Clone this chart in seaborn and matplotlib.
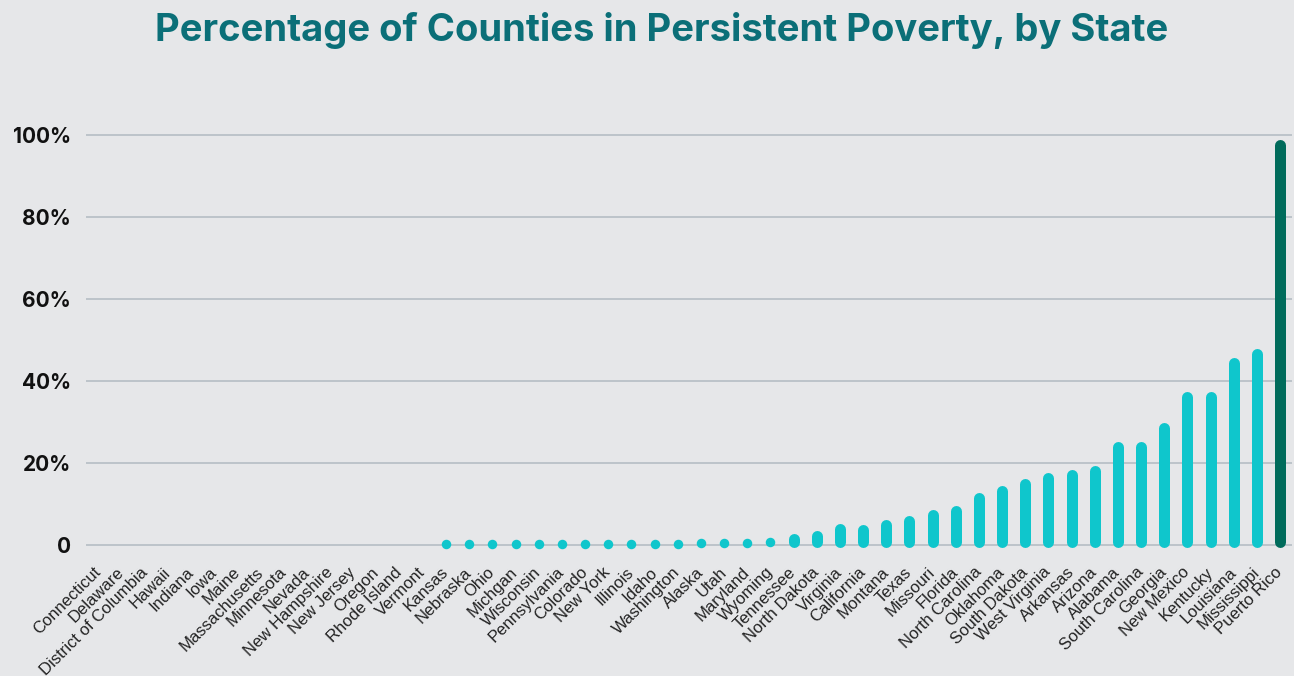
import matplotlib
matplotlib.use("Agg")
import matplotlib.pyplot as plt
import seaborn as sns
import pandas as pd
from matplotlib.ticker import FuncFormatter

states = ["Connecticut", "Delaware", "District of Columbia", "Hawaii", "Indiana", "Iowa",
          "Maine", "Massachusetts", "Minnesota", "Nevada", "New Hampshire", "New Jersey",
          "Oregon", "Rhode Island", "Vermont", "Kansas", "Nebraska", "Ohio", "Michgan",
          "Wisconsin", "Pennsylvania", "Colorado", "New York", "Illinois", "Idaho",
          "Washington", "Alaska", "Utah", "Maryland", "Wyoming", "Tennessee",
          "North Dakota", "Virginia", "California", "Montana", "Texas", "Missouri",
          "Florida", "North Carolina", "Oklahoma", "South Dakota", "West Virginia",
          "Arkansas", "Arizona", "Alabama", "South Carolina", "Georgia", "New Mexico",
          "Kentucky", "Louisiana", "Mississippi", "Puerto Rico"]
pct = [0, 0, 0, 0, 0, 0, 0, 0, 0, 0, 0, 0, 0, 0, 0,
       1.2, 1.2, 1.2, 1.2, 1.2, 1.2, 1.2, 1.2, 1.2, 1.2, 1.2,
       1.5, 1.5, 1.6, 2.0, 2.9, 3.5, 5.2, 5.1, 6.2, 7.1, 8.6, 9.6,
       12.7, 14.4, 16.2, 17.7, 18.5, 19.3, 25.3, 25.3, 29.8, 37.3, 37.3,
       45.6, 47.8, 98.9]
highlight = ["Puerto Rico"]
y_ticks = [0, 20, 40, 60, 80, 100]

BG = "#e6e7e9"
CYAN = "#0fc6cc"
DARK = "#006b5b"
GRID = "#b9c1c7"
TITLE = "#0b6f78"

df = pd.DataFrame({"state": states, "pct": pct})
df["group"] = ["hi" if s in highlight else "base" for s in states]

sns.set_theme(style="white")
plt.rcParams["font.family"] = ["Liberation Sans", "DejaVu Sans"]

fig = plt.figure(figsize=(12.94, 6.76), dpi=100, facecolor=BG)
ax = fig.add_axes([0.0665, 0.1756, 0.932, 0.6555])
ax.set_facecolor(BG)

n = len(states)
sns.barplot(data=df, x="state", y="pct", hue="group", order=states,
            palette={"base": CYAN, "hi": DARK}, dodge=False, legend=False,
            saturation=1, width=0.4, ax=ax, zorder=3)

ax.set_ylim(-3, 105)
ax.set_xlim(-0.54, n - 1 + 0.52)

# turn each seaborn bar into a pill (rounded ends) at the same position
px_per_unit = 443 / 108.0
lw_px = 11.0
r = (lw_px / 2) / px_per_unit
bottom = -2.5 / px_per_unit
for p in list(ax.patches):
    h = p.get_height()
    p.set_visible(False)
    if h is None or h != h or h <= 0:
        continue
    xc = p.get_x() + p.get_width() / 2
    fc = p.get_facecolor()
    y0 = bottom + r
    y1 = h - r
    if y1 < y0 + 0.3:
        m = (h + bottom) / 2
        ax.plot([xc], [m], marker="o", markersize=9.5 * 72 / 100,
                markerfacecolor=fc, markeredgewidth=0, linestyle="none", zorder=3)
    else:
        ax.plot([xc, xc], [y0, y1], color=fc, linewidth=lw_px * 72 / 100,
                solid_capstyle="round", zorder=3)

ax.set_yticks(y_ticks)
ax.yaxis.set_major_formatter(FuncFormatter(lambda v, _: "0" if v == 0 else f"{v:.0f}%"))
ax.grid(axis="y", color=GRID, linewidth=1.3, zorder=0)
ax.grid(axis="x", visible=False)
for s in ax.spines.values():
    s.set_visible(False)
ax.tick_params(axis="y", length=0, pad=11)
ax.tick_params(axis="x", length=0, pad=9)
for lab in ax.get_yticklabels():
    lab.set_fontfamily(["Inter", "DejaVu Sans"])
    lab.set_fontweight("bold")
    lab.set_fontsize(15)
    lab.set_color("#111111")
ax.set_xticks(range(n))
ax.set_xticklabels(states, rotation=45, ha="right", va="center",
                   rotation_mode="anchor", fontsize=12, color="#222222")
ax.set_xlabel("")
ax.set_ylabel("")

fig.text(0.511, 0.955, "Percentage of Counties in Persistent Poverty, by State",
         ha="center", va="center", fontsize=27.5, fontweight="bold",
         color=TITLE, family=["Inter", "DejaVu Sans"])

fig.savefig("out.png", dpi=100, facecolor=BG)
